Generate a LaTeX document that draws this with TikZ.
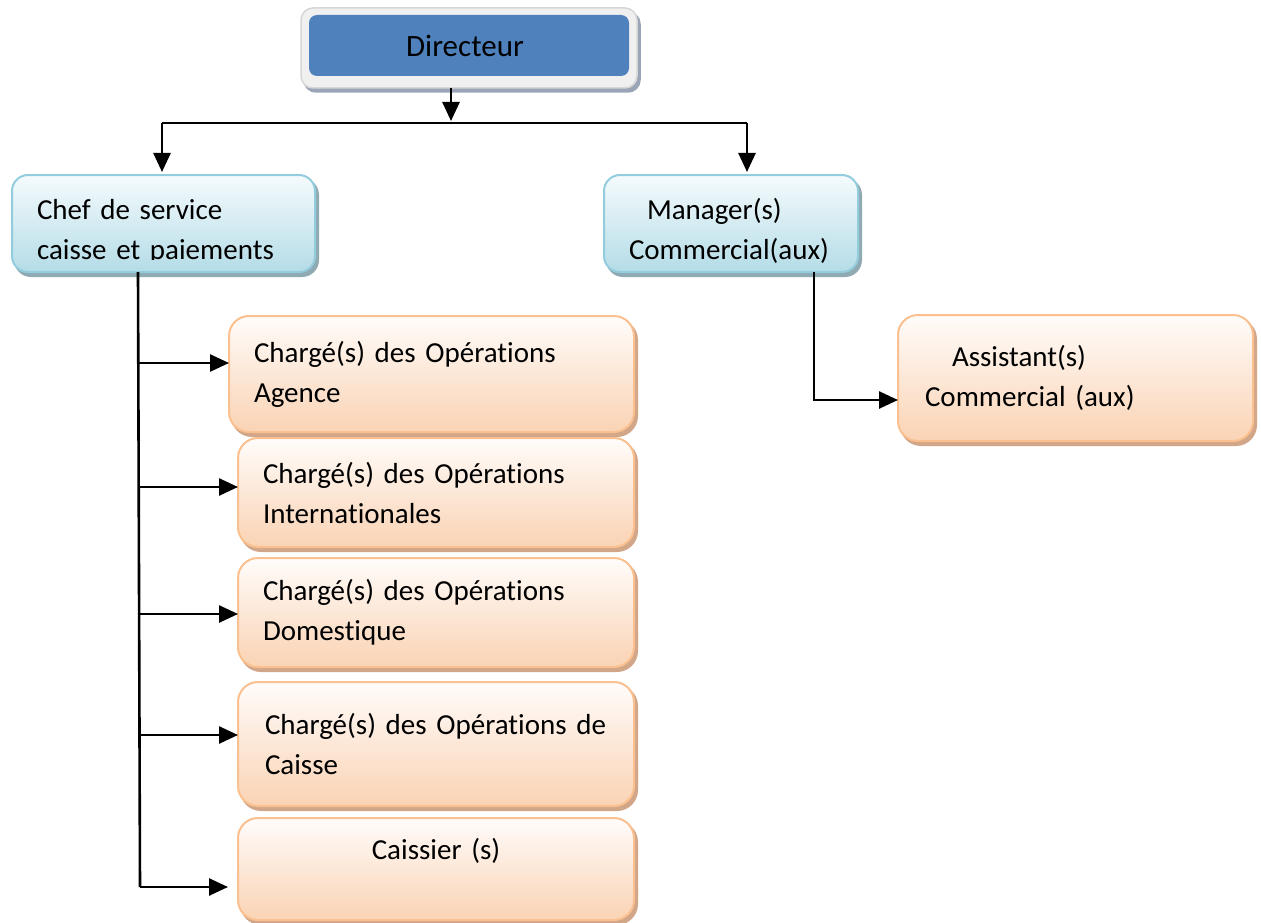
\documentclass[tikz,border=0pt]{standalone}
\usepackage{fontspec}
\setmainfont{Carlito}[Ligatures={NoCommon},WordSpace=0.85]
\usetikzlibrary{arrows.meta,calc}
\definecolor{obord}{HTML}{FAC090}
\definecolor{otop}{HTML}{FFFCFA}
\definecolor{obot}{HTML}{FAD3B4}
\definecolor{oshad}{HTML}{D2A688}
\definecolor{bbord}{HTML}{93CDDD}
\definecolor{btop}{HTML}{F5FBFD}
\definecolor{bbot}{HTML}{B4DCE7}
\definecolor{bshad}{HTML}{8FAAB3}
\definecolor{dblue}{HTML}{4F81BD}
\definecolor{dframe}{HTML}{F0F0F0}
\definecolor{dframeb}{HTML}{D6D6D6}
\definecolor{dshad}{HTML}{9AA6B8}
\begin{document}
\begin{tikzpicture}[x=1pt,y=-1pt,
  every node/.style={inner sep=0pt,outer sep=0pt},
  txt/.style={font=\fontsize{29}{40}\selectfont},
  obox/.style={draw=obord, line width=2pt, rounded corners=20pt,
    top color=otop, bottom color=obot, anchor=north west, txt,
    preaction={fill=oshad, draw=oshad, line width=2pt,
      transform canvas={shift={(3pt,-4pt)}}}},
  bbox/.style={draw=bbord, line width=2pt, rounded corners=16pt,
    top color=btop, bottom color=bbot, anchor=north west,
    preaction={fill=bshad, draw=bshad, line width=2pt,
      transform canvas={shift={(3pt,-4pt)}}}},
  conn/.style={line width=2.6pt, black},
  arr/.style={conn, -{Triangle[length=19pt,width=17pt]}}
]
\useasboundingbox (0,0) rectangle (1261,923);

% Directeur
\node[draw=dframeb, line width=1.5pt, fill=dframe, rounded corners=12pt,
  anchor=north west, minimum width=336pt, minimum height=80pt,
  preaction={fill=dshad, draw=dshad, transform canvas={shift={(3pt,-4pt)}}}]
  (dirframe) at (301,8) {};
\node[fill=dblue, rounded corners=8pt, anchor=north west,
  minimum width=320pt, minimum height=61pt,
  font=\fontsize{31}{38}\selectfont] (dir) at (309,15) {\hspace*{-8pt}Directeur};

% Chef de service
\node[bbox, minimum width=303pt, minimum height=97pt] (chef) at (12,175) {};
\begin{scope}
  \clip (0,0) rectangle (1261,259);
  \node[txt, align=left, text width=253pt] (cheftxt) at ($(chef.center)+(0,8)$)
    {Chef de service\\caisse et paiements};
\end{scope}

% Manager
\node[bbox, txt, minimum width=254pt, minimum height=97pt] (mgr) at (604,175) {};
\node[txt, align=left, text width=204pt] (mgrtxt) at ($(mgr.center)+(0,7)$)
  {\hspace*{18pt}Manager(s)\\Commercial(aux)};

% Orange boxes
\node[obox, minimum width=405pt, minimum height=116pt, align=left, text width=355pt]
  (o1) at (229,316) {Chargé(s) des Opérations\\Agence};
\node[obox, minimum width=396pt, minimum height=109pt, align=left, text width=346pt]
  (o2) at (238,438) {Chargé(s) des Opérations\\Internationales};
\node[obox, minimum width=396pt, minimum height=109pt, align=left, text width=346pt]
  (o3) at (238,558) {Chargé(s) des Opérations\\Domestique};
\node[obox, minimum width=396pt, minimum height=124pt, align=left, text width=342pt]
  (o4) at (238,682) {Chargé(s) des Opérations de\\Caisse};
\node[obox, minimum width=396pt, minimum height=102pt, align=center, text width=346pt]
  (o5) at (238,818) {Caissier (s)\\\mbox{}};
\node[obox, minimum width=355pt, minimum height=126pt, align=left, text width=301pt]
  (asst) at (898,315) {\hspace*{27pt}Assistant(s)\\Commercial (aux)};

% Connectors top
\coordinate (j) at (451,121);
\coordinate (hl) at (162,123);
\coordinate (hr) at (747,123);
\draw[arr] (j |- dirframe.south) -- (j);
\draw[conn] (hl) -- (hr);
\draw[arr] (hl) -- ($(hl |- chef.north)+(0,-3)$);
\draw[arr] (hr) -- ($(hr |- mgr.north)+(0,-3)$);

% Left trunk
\coordinate (t0) at (138,272);
\coordinate (t5) at (140,887);
\draw[conn] (t0 |- chef.south) -- (t5);
\coordinate (b1) at (138,363);
\coordinate (b2) at (139,487);
\coordinate (b3) at (139,614);
\coordinate (b4) at (140,735);
\draw[arr] (b1) -- (b1 -| o1.west);
\draw[arr] (b2) -- (b2 -| o2.west);
\draw[arr] (b3) -- (b3 -| o3.west);
\draw[arr] (b4) -- (b4 -| o4.west);
\draw[arr, shorten >=10pt] (t5) -- (t5 -| o5.west);

% Right connector
\coordinate (r0) at (814,400);
\draw[arr] (r0 |- mgr.south) -- (r0) -- (r0 -| asst.west);
\end{tikzpicture}
\end{document}
